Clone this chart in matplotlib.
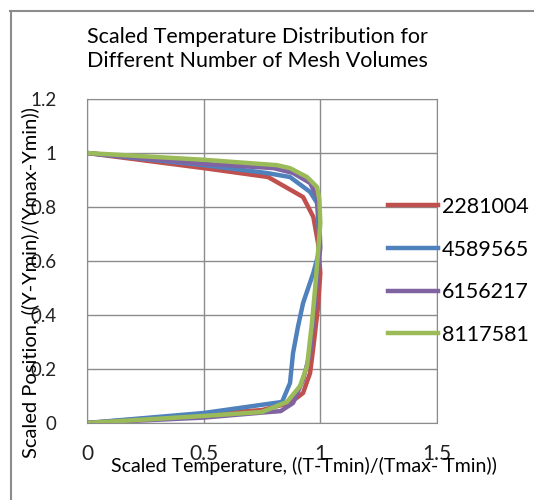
import matplotlib
matplotlib.use('Agg')
import matplotlib.pyplot as plt
from matplotlib.lines import Line2D

plt.rcParams['font.family'] = ['Lato', 'DejaVu Sans']

# series names and colours
labels = ['2281004', '4589565', '6156217', '8117581']
colors = ['#C0504D', '#4F81BD', '#8064A2', '#9BBB59']

# scaled temperature (x) and scaled position (y)
x_2281004 = [0, 0.5, 0.776, 0.926, 0.97, 0.99, 1.0, 0.99, 0.97, 0.956, 0.926, 0.87, 0.75, 0]
y_2281004 = [1.0, 0.944, 0.911, 0.837, 0.763, 0.667, 0.556, 0.43, 0.28, 0.185, 0.111, 0.074, 0.048, 0]

x_4589565 = [0, 0.5, 0.77, 0.87, 0.956, 0.986, 0.996, 0.99, 0.97, 0.926, 0.904, 0.883, 0.87, 0.836, 0.5, 0]
y_4589565 = [1.0, 0.955, 0.926, 0.911, 0.856, 0.815, 0.678, 0.62, 0.556, 0.444, 0.356, 0.259, 0.148, 0.078, 0.037, 0]

x_6156217 = [0, 0.5, 0.80, 0.883, 0.956, 0.986, 0.996, 1.0, 0.986, 0.97, 0.956, 0.926, 0.883, 0.83, 0.77, 0.5, 0]
y_6156217 = [1.0, 0.96, 0.944, 0.926, 0.889, 0.837, 0.74, 0.65, 0.53, 0.38, 0.26, 0.16, 0.074, 0.044, 0.04, 0.02, 0]

x_8117581 = [0, 0.5, 0.814, 0.87, 0.943, 0.986, 0.996, 1.0, 0.99, 0.977, 0.964, 0.943, 0.913, 0.857, 0.75, 0.5, 0]
y_8117581 = [1.0, 0.975, 0.955, 0.944, 0.911, 0.874, 0.826, 0.74, 0.63, 0.493, 0.37, 0.211, 0.137, 0.078, 0.041, 0.026, 0]

xs = [x_2281004, x_4589565, x_6156217, x_8117581]
ys = [y_2281004, y_4589565, y_6156217, y_8117581]

fig = plt.figure(figsize=(5.34, 5.0), dpi=100)
ax = fig.add_axes([87 / 534, 1 - 423 / 500, 350 / 534, 324 / 500])

for x, y, c, lab in zip(xs, ys, colors, labels):
  ax.plot(x, y, color=c, lw=3.2, label=lab, solid_joinstyle='round')

ax.set_xlim(0, 1.5)
ax.set_ylim(0, 1.2)
ax.set_xticks([0, 0.5, 1, 1.5])
ax.set_xticklabels(['0', '0.5', '1', '1.5'])
ax.set_yticks([0, 0.2, 0.4, 0.6, 0.8, 1, 1.2])
ax.set_yticklabels(['0', '0.2', '0.4', '0.6', '0.8', '1', '1.2'])
ax.grid(True, color='#8C8C8C', lw=1)
ax.set_axisbelow(True)
for s in ax.spines.values():
  s.set_color('#8C8C8C')
ax.tick_params(axis='both', length=0, colors='#222222')
ax.tick_params(axis='y', pad=22, labelsize=13.5)
ax.tick_params(axis='x', pad=15, labelsize=15)

fig.text(0.483, 1 - 49 / 500, 'Scaled Temperature Distribution for\nDifferent Number of Mesh Volumes',
         ha='center', va='center', fontsize=15.5, linespacing=1.3)
fig.text(30 / 534, 1 - 283 / 500, 'Scaled Position, ((Y-Ymin)/(Ymax-Ymin))',
         rotation=90, ha='center', va='center', fontsize=14.5)
fig.text(304 / 534, 1 - 466 / 500, 'Scaled Temperature, ((T-Tmin)/(Tmax- Tmin))',
         ha='center', va='center', fontsize=14)

leg = ax.legend(loc='upper left', bbox_to_anchor=(388 / 534, 1 - 197 / 500),
                bbox_transform=fig.transFigure, frameon=False, fontsize=15.5,
                handlelength=2.3, handletextpad=0.2, labelspacing=1.05,
                borderaxespad=0, borderpad=0)

# outer chart frame
fig.add_artist(Line2D([10 / 534, 1], [1 - 11 / 500, 1 - 11 / 500], transform=fig.transFigure, color='#8C8C8C', lw=1.5))
fig.add_artist(Line2D([11 / 534, 11 / 534], [0, 1 - 11 / 500], transform=fig.transFigure, color='#8C8C8C', lw=1.5))

fig.savefig('out.png', dpi=100)
plt.close()
